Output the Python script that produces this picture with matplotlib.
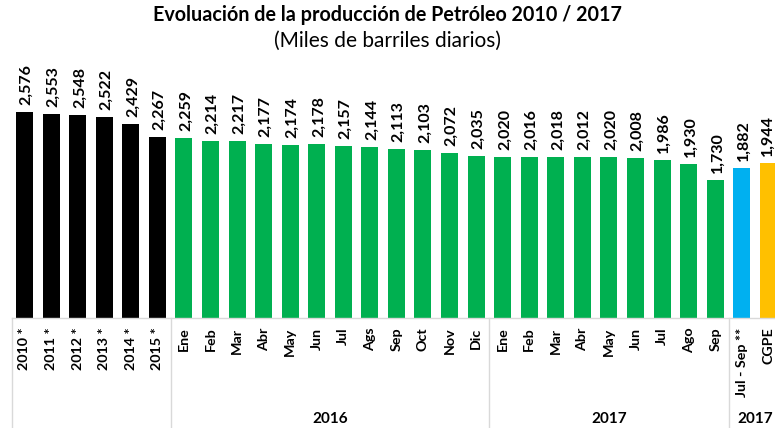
import matplotlib
matplotlib.use("Agg")
import matplotlib.pyplot as plt
import matplotlib.transforms as mtransforms

plt.rcParams['font.family'] = ['Lato', 'DejaVu Sans']

annual_labels = ["2010 *", "2011 *", "2012 *", "2013 *", "2014 *", "2015 *"]
annual_values = [2576, 2553, 2548, 2522, 2429, 2267]
m2016_labels = ["Ene", "Feb", "Mar", "Abr", "May", "Jun", "Jul", "Ags", "Sep", "Oct", "Nov", "Dic"]
m2016_values = [2259, 2214, 2217, 2177, 2174, 2178, 2157, 2144, 2113, 2103, 2072, 2035]
m2017_labels = ["Ene", "Feb", "Mar", "Abr", "May", "Jun", "Jul", "Ago", "Sep"]
m2017_values = [2020, 2016, 2018, 2012, 2020, 2008, 1986, 1930, 1730]
extra_labels = ["Jul - Sep **", "CGPE"]
extra_values = [1882, 1944]
group_names = ["2016", "2017", "2017"]

labels = annual_labels + m2016_labels + m2017_labels + extra_labels
values = annual_values + m2016_values + m2017_values + extra_values
colors = (["#000000"] * len(annual_values) + ["#00B050"] * len(m2016_values)
          + ["#00B050"] * len(m2017_values) + ["#00B0F0", "#FFC000"])

fig = plt.figure(figsize=(7.75, 4.28), dpi=100)
ax = fig.add_axes([12/775, 110/428, 763/775, 258/428])
x = list(range(len(values)))
ax.bar(x, values, width=0.64, color=colors)
ax.set_xlim(-0.47, 28.25)
ax.set_ylim(0, 258/0.0798)

for xi, v in zip(x, values):
    dx = 1.5 if xi < len(values) - 1 else -0.5
    ax.annotate(f"{v:,}", (xi, v), xytext=(dx, 5), textcoords="offset points",
                rotation=90, ha="center", va="bottom", fontsize=11.5, fontweight="bold")

ax.set_xticks(x)
ax.set_xticklabels(labels, rotation=90, fontsize=10.3, fontweight="bold", va="top")
ax.tick_params(axis="x", length=0, pad=7)
ax.set_yticks([])
for s in ["top", "right", "left"]:
    ax.spines[s].set_visible(False)
ax.spines["bottom"].set_color("#d9d9d9")
ax.spines["bottom"].set_linewidth(1)

trans = mtransforms.blended_transform_factory(ax.transData, ax.transAxes)
n1 = len(annual_values)
n2 = n1 + len(m2016_values)
n3 = n2 + len(m2017_values)
for sep in [-0.47, n1 - 0.5, n2 - 0.5, n3 - 0.5]:
    ax.plot([sep, sep], [0, -0.43], transform=trans, color="#d9d9d9", lw=1, clip_on=False)

centers = [(n1 + n2 - 1) / 2, (n2 + n3 - 1) / 2, (n3 + len(values) - 1) / 2]
for c, name in zip(centers, group_names):
    ax.text(c, -101/258, name, transform=trans, ha="center", va="center",
            fontsize=11, fontweight="bold")

fig.text(0.5, 1 - 15/428, "Evoluación de la producción de Petróleo 2010 / 2017",
         ha="center", va="center", fontsize=14.2, fontweight="bold")
fig.text(0.5, 1 - 41/428, "(Miles de barriles diarios)", ha="center", va="center", fontsize=15)

fig.savefig("out.png", dpi=100)
